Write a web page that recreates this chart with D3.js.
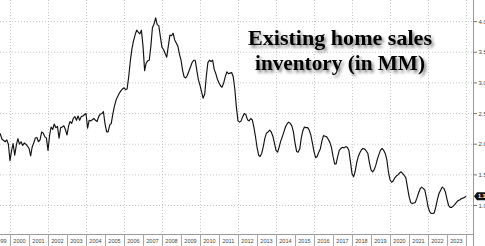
<!DOCTYPE html>
<html>
<head>
<meta charset="utf-8">
<script src="https://cdn.jsdelivr.net/npm/d3@7"></script>
<style>
  body { margin: 0; background: #fff; }
  svg { display: block; }
</style>
</head>
<body>
<svg></svg>
<script>
// monthly inventory (millions), first value = Jun 1999
const startMonth = new Date(1999, 5, 1);
const inventory = [
    2.2, 2.16, 2.08, 2.06, 2.04, 2.07, 2.0,                               // 1999
    1.73, 1.9, 2.01, 1.82, 1.98, 2.09, 2.0, 2.04, 1.98, 2.02, 2.0, 1.97,   // 2000
    1.93, 1.81, 1.95, 2.02, 2.1, 2.11, 2.04, 2.07, 2.2, 2.18, 2.12, 2.1,   // 2001
    1.9, 2.15, 2.28, 2.24, 2.33, 2.27, 2.29, 2.1, 2.27, 2.28, 2.3, 2.24,   // 2002
    2.15, 2.3, 2.37, 2.34, 2.42, 2.45, 2.39, 2.46, 2.39, 2.45, 2.46, 2.48, // 2003
    2.5, 2.26, 2.39, 2.38, 2.4, 2.42, 2.39, 2.37, 2.45, 2.49, 2.5, 2.53,   // 2004
    2.33, 2.2, 2.2, 2.31, 2.34, 2.5, 2.62, 2.72, 2.78, 2.83, 2.87, 2.9,    // 2005
    2.92, 2.89, 2.9, 3.1, 3.35, 3.55, 3.68, 3.78, 3.86, 3.83, 3.8, 3.86,   // 2006
    3.6, 3.2, 3.32, 3.36, 3.37, 3.6, 3.9, 3.96, 4.06, 3.95, 3.93, 3.75,    // 2007
    3.58, 3.54, 3.48, 3.42, 3.6, 3.78, 3.77, 3.81, 3.7, 3.65, 3.6, 3.47,   // 2008
    3.37, 3.2, 3.1, 3.08, 3.12, 3.19, 3.26, 3.33, 3.37, 3.37, 3.2, 3.05,   // 2009
    2.96, 2.85, 2.75, 2.82, 3.1, 3.33, 3.37, 3.35, 3.37, 3.22, 3.15, 3.06, // 2010
    3.0, 2.95, 2.93, 3.0, 3.1, 3.18, 3.15, 3.16, 3.17, 3.1, 2.9, 2.6,      // 2011
    2.38, 2.36, 2.38, 2.45, 2.5, 2.48, 2.4, 2.38, 2.42, 2.4, 2.28, 2.13,   // 2012
    1.95, 1.82, 1.8, 1.85, 1.96, 2.1, 2.18, 2.2, 2.23, 2.2, 2.13, 2.02,    // 2013
    1.9, 1.87, 1.95, 2.05, 2.12, 2.2, 2.28, 2.33, 2.36, 2.34, 2.3, 2.2,    // 2014
    2.02, 1.88, 1.87, 1.92, 2.1, 2.22, 2.28, 2.27, 2.27, 2.23, 2.15, 2.02, // 2015
    1.88, 1.78, 1.8, 1.87, 1.92, 2.05, 2.14, 2.13, 2.12, 2.08, 2.03, 1.95, // 2016
    1.8, 1.68, 1.68, 1.8, 1.9, 1.93, 1.95, 1.94, 1.96, 1.95, 1.9, 1.72,    // 2017
    1.52, 1.47, 1.55, 1.7, 1.8, 1.86, 1.91, 1.93, 1.92, 1.89, 1.85, 1.7,   // 2018
    1.58, 1.55, 1.58, 1.65, 1.75, 1.83, 1.9, 1.93, 1.9, 1.85, 1.75, 1.55,  // 2019
    1.42, 1.38, 1.4, 1.45, 1.48, 1.5, 1.53, 1.55, 1.52, 1.49, 1.45, 1.3,   // 2020
    1.15, 1.05, 1.03, 1.04, 1.05, 1.12, 1.2, 1.27, 1.3, 1.28, 1.25, 1.13,  // 2021
    0.98, 0.9, 0.87, 0.87, 0.88, 0.98, 1.1, 1.2, 1.25, 1.3, 1.28, 1.22,    // 2022
    1.1, 1.0, 0.97, 0.97, 0.99, 1.02, 1.05, 1.08, 1.09, 1.11, 1.12, 1.13,  // 2023
    1.15
];
const yearLabels = [1999, 2000, 2001, 2002, 2003, 2004, 2005, 2006, 2007, 2008, 2009, 2010,
    2011, 2012, 2013, 2014, 2015, 2016, 2017, 2018, 2019, 2020, 2021, 2022, 2023];
const gridYears = [2000, 2002, 2004, 2006, 2008, 2010, 2012, 2014, 2016, 2018, 2020, 2022, 2024];
const yTicks = [1.0, 1.5, 2.0, 2.5, 3.0, 3.5, 4.0];
const lastLabel = "1.15";
const titleLines = ["Existing home sales", "inventory (in MM)"];

const width = 485;
const height = 246;
const plotRight = 473;
const plotBottom = 234;

const data = inventory.map((v, i) => ({ date: d3.timeMonth.offset(startMonth, i), value: v }));

const svg = d3.select("svg")
    .attr("width", width)
    .attr("height", height);

const x = d3.scaleTime()
    .domain([new Date(2000, 0, 1), new Date(2024, 0, 1)])
    .range([10, 466]);

const y = d3.scaleLinear()
    .domain([1, 4])
    .range([205.5, 21.6]);

const defs = svg.append("defs");
defs.append("clipPath").attr("id", "plotclip")
    .append("rect")
    .attr("x", 0).attr("y", 0)
    .attr("width", plotRight).attr("height", plotBottom);

const shadow = defs.append("filter").attr("id", "shadow")
    .attr("x", "-10%").attr("y", "-20%").attr("width", "130%").attr("height", "160%");
shadow.append("feDropShadow")
    .attr("dx", 2).attr("dy", 2.5).attr("stdDeviation", 1.8)
    .attr("flood-color", "#000").attr("flood-opacity", 0.5);

// grid
svg.append("g")
    .selectAll("line")
    .data(yTicks)
    .enter()
    .append("line")
    .attr("x1", 0).attr("x2", plotRight)
    .attr("y1", d => y(d)).attr("y2", d => y(d))
    .attr("stroke", "#c8c8c8")
    .attr("stroke-width", 1)
    .attr("stroke-dasharray", "1,2");

svg.append("g")
    .selectAll("line")
    .data(gridYears)
    .enter()
    .append("line")
    .attr("x1", d => Math.round(x(new Date(d, 0, 1))) + 0.5)
    .attr("x2", d => Math.round(x(new Date(d, 0, 1))) + 0.5)
    .attr("y1", 0).attr("y2", plotBottom)
    .attr("stroke", "#c8c8c8")
    .attr("stroke-width", 1)
    .attr("stroke-dasharray", "1,2");

// frame lines
svg.append("line")
    .attr("x1", 0).attr("x2", plotRight + 0.5)
    .attr("y1", plotBottom + 0.5).attr("y2", plotBottom + 0.5)
    .attr("stroke", "#9a9a9a");
svg.append("line")
    .attr("x1", plotRight + 0.5).attr("x2", plotRight + 0.5)
    .attr("y1", 0).attr("y2", height)
    .attr("stroke", "#9a9a9a");

// x axis: year separators and centred labels
svg.append("g")
    .selectAll("line")
    .data(yearLabels.concat([2024]))
    .enter()
    .append("line")
    .attr("x1", d => Math.round(x(new Date(d, 0, 1))) + 0.5)
    .attr("x2", d => Math.round(x(new Date(d, 0, 1))) + 0.5)
    .attr("y1", plotBottom).attr("y2", height)
    .attr("stroke", "#a8a8a8");

svg.append("g")
    .selectAll("text")
    .data(yearLabels)
    .enter()
    .append("text")
    .attr("x", d => x(new Date(d, 6, 1)))
    .attr("y", 243)
    .attr("text-anchor", "middle")
    .attr("font-family", "Liberation Sans, Arial, sans-serif")
    .attr("font-size", 5.5)
    .attr("fill", "#444")
    .text(d => d);

// y axis on the right
const yAxis = svg.append("g");
yAxis.selectAll("line")
    .data(yTicks)
    .enter()
    .append("line")
    .attr("x1", plotRight).attr("x2", plotRight + 4)
    .attr("y1", d => y(d)).attr("y2", d => y(d))
    .attr("stroke", "#777");
yAxis.selectAll("text")
    .data(yTicks)
    .enter()
    .append("text")
    .attr("x", 478.5)
    .attr("y", d => y(d) + 2)
    .attr("font-family", "Liberation Sans, Arial, sans-serif")
    .attr("font-size", 6)
    .attr("fill", "#444")
    .text(d => d.toFixed(1));

// the series
const line = d3.line()
    .x(d => x(d.date))
    .y(d => y(d.value));

svg.append("path")
    .datum(data)
    .attr("clip-path", "url(#plotclip)")
    .attr("fill", "none")
    .attr("stroke", "#111")
    .attr("stroke-width", 1.15)
    .attr("stroke-linejoin", "round")
    .attr("d", line);

// last value tag
const last = data[data.length - 1];
const ty = y(last.value);
svg.append("path")
    .attr("d", `M474,${ty} L477,${ty - 4} H490 V${ty + 4} H477 Z`)
    .attr("fill", "#111");
svg.append("text")
    .attr("x", 478)
    .attr("y", ty + 2)
    .attr("font-family", "Liberation Sans, Arial, sans-serif")
    .attr("font-size", 5.5)
    .attr("font-weight", "bold")
    .attr("fill", "#fff")
    .text(lastLabel);

// title
const titleWidths = [184, 170];
svg.append("g")
    .attr("filter", "url(#shadow)")
    .selectAll("text")
    .data(titleLines)
    .enter()
    .append("text")
    .attr("x", 340)
    .attr("y", (d, i) => 45 + i * 25)
    .attr("text-anchor", "middle")
    .attr("font-family", "Liberation Serif, Times New Roman, serif")
    .attr("font-size", 21)
    .attr("font-weight", "bold")
    .attr("fill", "#000")
    .attr("textLength", (d, i) => titleWidths[i])
    .attr("lengthAdjust", "spacingAndGlyphs")
    .text(d => d);
</script>
</body>
</html>
